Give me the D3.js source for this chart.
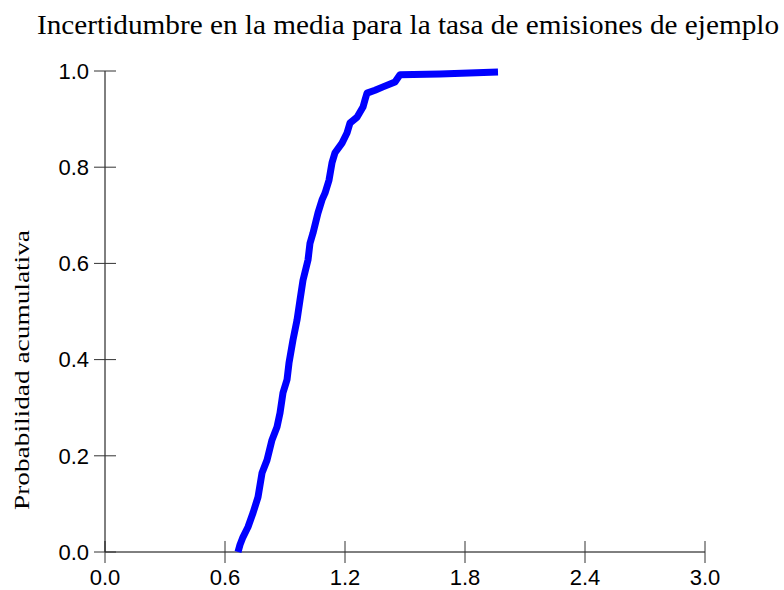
<!DOCTYPE html>
<html><head><meta charset="utf-8">
<script src="https://cdn.jsdelivr.net/npm/d3@7"></script>
<style>body{margin:0;background:#fff}svg{display:block}</style>
</head><body>
<script>
const title = "Incertidumbre en la media para la tasa de emisiones de ejemplo";
const yLabel = "Probabilidad acumulativa";
const xTicks = [0.0, 0.6, 1.2, 1.8, 2.4, 3.0];
const yTicks = [0.0, 0.2, 0.4, 0.6, 0.8, 1.0];
const cdfX = [0.665,0.675,0.69,0.715,0.74,0.765,0.785,0.81,0.835,0.86,0.875,0.89,0.91,0.92,0.94,0.96,0.975,0.99,1.015,1.025,1.04,1.065,1.085,1.10,1.12,1.135,1.15,1.185,1.21,1.225,1.26,1.29,1.30,1.31,1.35,1.39,1.45,1.475,1.675,1.965];
const cdfY = [0,0.015,0.031,0.052,0.081,0.114,0.164,0.191,0.233,0.26,0.289,0.331,0.358,0.393,0.441,0.482,0.524,0.565,0.607,0.642,0.663,0.705,0.732,0.746,0.773,0.809,0.830,0.850,0.871,0.892,0.904,0.925,0.940,0.954,0.960,0.967,0.977,0.992,0.994,0.998];

const W = 784, H = 590;
const svg = d3.select("body").append("svg").attr("width", W).attr("height", H);
const x = d3.scaleLinear().domain([0, 3]).range([105, 705]);
const y = d3.scaleLinear().domain([0, 1]).range([552, 71]);

svg.append("text").attr("x", 408).attr("y", 34).attr("text-anchor", "middle")
  .attr("font-family", "'Liberation Serif', 'Times New Roman', serif").attr("font-size", 27)
  .attr("textLength", 742).attr("lengthAdjust", "spacingAndGlyphs")
  .text(title);

svg.append("text").attr("transform", "translate(29,370) rotate(-90)").attr("text-anchor", "middle")
  .attr("font-family", "'Liberation Serif', 'Times New Roman', serif").attr("font-size", 22)
  .attr("textLength", 280).attr("lengthAdjust", "spacingAndGlyphs")
  .text(yLabel);

const fontSans = "'Liberation Sans', Arial, sans-serif";
// x axis
svg.append("line").attr("x1", x(0)).attr("x2", x(3)).attr("y1", y(0)).attr("y2", y(0)).attr("stroke", "#000");
const xt = svg.append("g");
xTicks.forEach(v => {
  xt.append("line").attr("x1", x(v)).attr("x2", x(v)).attr("y1", y(0) - 11).attr("y2", y(0) + 11).attr("stroke", "#333");
  xt.append("text").attr("x", x(v)).attr("y", 585).attr("text-anchor", "middle")
    .attr("font-family", fontSans).attr("font-size", 22).text(d3.format(".1f")(v));
});
// y axis
svg.append("line").attr("x1", x(0)).attr("x2", x(0)).attr("y1", y(0)).attr("y2", y(1)).attr("stroke", "#000");
const yt = svg.append("g");
yTicks.forEach(v => {
  yt.append("line").attr("x1", x(0) - 11).attr("x2", x(0) + 11).attr("y1", y(v)).attr("y2", y(v)).attr("stroke", "#333");
  yt.append("text").attr("x", 89).attr("y", y(v)).attr("dy", "0.35em").attr("text-anchor", "end")
    .attr("font-family", fontSans).attr("font-size", 22).text(d3.format(".1f")(v));
});

const pts = cdfX.map((v, i) => [v, cdfY[i]]);
svg.append("path").datum(pts)
  .attr("d", d3.line().x(d => x(d[0])).y(d => y(d[1])))
  .attr("fill", "none").attr("stroke", "#0000ff").attr("stroke-width", 7)
  .attr("stroke-linejoin", "round");
</script>
</body></html>
